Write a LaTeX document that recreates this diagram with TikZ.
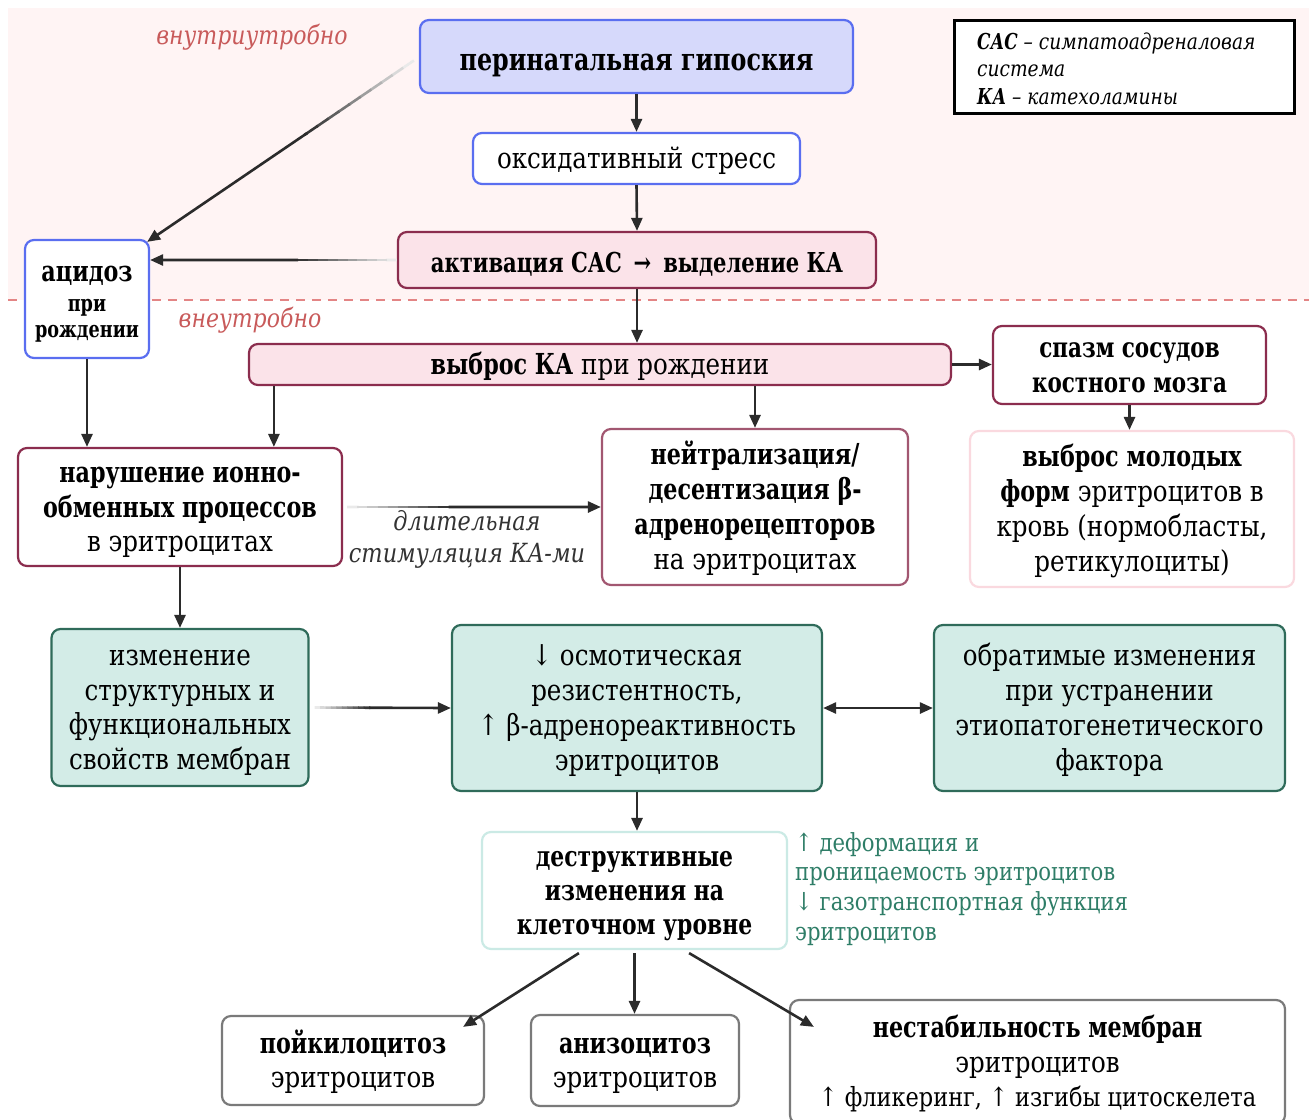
\documentclass[tikz,border=0pt]{standalone}
\usepackage{fontspec}
\usepackage{graphicx}
\setmainfont{DejaVu Serif}[FakeStretch=0.85, BoldFeatures={FakeStretch=0.77}, BoldItalicFeatures={FakeStretch=0.77}]
\usetikzlibrary{arrows.meta,calc}
\definecolor{bblue}{HTML}{5A6EF0}
\definecolor{hypfill}{HTML}{D6D9FB}
\definecolor{maroon}{HTML}{8B2D4E}
\definecolor{pinkfill}{HTML}{FBE3E9}
\definecolor{tealfill}{HTML}{D3ECE7}
\definecolor{tealbord}{HTML}{2F6B5A}
\definecolor{lteal}{HTML}{CBEAE5}
\definecolor{lpink}{HTML}{FAD9DF}
\definecolor{grayb}{HTML}{7A7A7A}
\definecolor{lblred}{HTML}{C85A5A}
\definecolor{dashc}{HTML}{E38585}
\definecolor{bgpink}{HTML}{FFF4F4}
\definecolor{tealtxt}{HTML}{2E7D67}
\definecolor{arrc}{HTML}{2B2B2B}
\newcommand{\fsz}[2]{\fontsize{#1}{#2}\selectfont}
\newcommand{\tst}{\rule{0pt}{30bp}}
\newcommand{\bst}{\rule[-10bp]{0pt}{10bp}}
\newcommand{\gradarr}[2]{%
  \foreach \a/\b/\c in {0/0.045/10,0.04/0.085/18,0.08/0.125/27,0.12/0.165/36,0.16/0.205/46,0.2/0.245/56,0.24/0.285/66,0.28/0.325/76,0.32/0.365/86,0.36/0.41/95}{%
    \draw[arrc!\c, line width=2.6bp] ($(#1)!\a!(#2)$) -- ($(#1)!\b!(#2)$);}
  \draw[arr] ($(#1)!0.4!(#2)$) -- (#2);}
\begin{document}
\begin{tikzpicture}[x=1bp,y=-1bp,
  box/.style={rounded corners=9bp, line width=2.2bp, inner sep=0pt, align=center, font=\fsz{29}{35}},
  sz/.style 2 args={minimum width=#1bp, minimum height=#2bp},
  bluebox/.style={box, draw=bblue, fill=white},
  marbox/.style={box, draw=maroon, fill=white},
  pinkbox/.style={box, draw=maroon, fill=pinkfill},
  tealbox/.style={box, draw=tealbord, fill=tealfill},
  graybox/.style={box, draw=grayb, fill=white},
  arr/.style={draw=arrc, line width=2.6bp, -{Triangle[length=13bp,width=11bp]}},
  lbl/.style={font=\fsz{26}{30}\itshape, text=lblred, inner sep=0pt}
]
\useasboundingbox (0,0) rectangle (1309,1119);
\fill[bgpink] (8,8) rectangle (1309,300);
\draw[dashc, line width=2.5bp, dash pattern=on 9bp off 7bp] (8,300) -- (1309,300);

\node[lbl] (lin) at (252,37) {внутриутробно};
\node[lbl] (lout) at (250,320) {внеутробно};

% legend
\node[draw=black, line width=3bp, fill=white, sz={340}{93}, inner sep=0pt] (leg) at (1124,66.5) {};
\node[anchor=west, align=left, inner sep=0pt, font=\fsz{22}{27.5}\itshape] (legt) at (977,68.5)
  {{\bfseries САС} – симпатоадреналовая\\система\\{\bfseries КА} – катехоламины};

% nodes
\node[box, draw=bblue, fill=hypfill, sz={433}{73}, font=\fsz{31}{35}\bfseries] (hyp) at (636.5,56.5) {\rule{0pt}{37bp}перинатальная гипоския\bst};
\node[bluebox, sz={327}{51}] (ox) at (636.5,158.5) {\tst оксидативный стресс\bst};
\node[pinkbox, sz={478}{56}, font=\fsz{27.5}{35}\bfseries] (sac) at (637,260) {\rule{0pt}{35bp}активация САС \,→\, выделение КА\bst};
\node[bluebox, sz={124}{118}, font=\fsz{23}{27}\bfseries] (acid) at (87,299) {{\fsz{29}{32}\rule{0pt}{31bp}ацидоз}\\[3bp]при\\рождении\bst};
\node[pinkbox, sz={702}{41}] (vyb) at (600,364.5) {\tst\textbf{выброс КА} при рождении\bst};
\node[marbox, sz={273}{78}, font=\fsz{28}{35}\bfseries] (spasm) at (1129.5,365) {\tst спазм сосудов\\костного мозга\bst};
\node[marbox, sz={324}{118}] (nar) at (180,507) {\tst\textbf{нарушение ионно-}\\\textbf{обменных процессов}\\в эритроцитах\bst};
\node[box, draw=maroon!80, fill=white, sz={306}{156}] (neu) at (755,507) {\tst\textbf{нейтрализация/}\\\textbf{десентизация β-}\\\textbf{адренорецепторов}\\на эритроцитах\bst};
\node[box, draw=lpink, fill=white, sz={324}{156}] (young) at (1132,509) {\tst\textbf{выброс молодых}\\\textbf{форм} эритроцитов в\\кровь (нормобласты,\\ретикулоциты)\bst};
\node[tealbox, sz={257}{157}] (izm) at (180,707.5) {\tst изменение\\структурных и\\функциональных\\свойств мембран\bst};
\node[tealbox, sz={370}{166}] (osm) at (637,708) {\tst↓ осмотическая\\резистентность,\\↑ β-адренореактивность\\эритроцитов\bst};
\node[tealbox, sz={351}{166}] (obr) at (1109.5,708) {\tst обратимые изменения\\при устранении\\этиопатогенетического\\фактора\bst};
\node[box, draw=lteal, fill=white, sz={305}{117}, font=\fsz{28.5}{34.5}\bfseries] (des) at (634.5,890.5) {\tst деструктивные\\изменения на\\клеточном уровне\bst};
\node[anchor=west, align=left, inner sep=0pt, text=tealtxt, font=\fsz{25}{30}] (side) at (795,889) {↑ деформация и\\проницаемость эритроцитов\\↓ газотранспортная функция\\эритроцитов};
\node[graybox, sz={262}{89}] (poik) at (353,1060.5) {\tst\textbf{пойкилоцитоз}\\эритроцитов\bst};
\node[graybox, sz={208}{91}] (aniz) at (635,1060.5) {\tst\textbf{анизоцитоз}\\эритроцитов\bst};
\node[graybox, sz={495}{124}] (nest) at (1037.5,1062) {\tst\textbf{нестабильность мембран}\\эритроцитов\\{\fsz{26.5}{35}↑ фликеринг, ↑ изгибы цитоскелета}\bst};

\node[inner sep=0pt, align=center, text=black!80, font=\fsz{26.5}{32}\itshape] (dlit) at (467,539) {длительная\\стимуляция КА-ми};

% helper coordinates
\coordinate (hypL) at ([xshift=-5bp,yshift=-4bp]hyp.west);
\coordinate (acidNE) at ([xshift=-3bp,yshift=-3bp]acid.north east);
\coordinate (acidE) at (sac.west -| acid.east);
\coordinate (narE) at ([xshift=4bp]nar.east);
\coordinate (izmE) at ([xshift=5bp]izm.east);

% arrows
\draw[arr] (hyp.south) -- (ox.north);
\draw[arr] (ox.south) -- (sac.north);
\draw[arr] (sac.south) -- (sac.south |- vyb.north);
\gradarr{hypL}{acidNE}
\gradarr{sac.west}{acidE}
\draw[arr] (vyb.east) -- (vyb.east -| spasm.west);
\draw[arr] (spasm.south) -- (spasm.south |- young.north);
\draw[arr] (vyb.south -| neu.north) -- (neu.north);
\draw[arr] ([xshift=26bp]vyb.south west) -- ([xshift=26bp]vyb.south west |- nar.north);
\draw[arr] (acid.south) -- (acid.south |- nar.north);
\gradarr{narE}{neu.west}
\draw[arr] (nar.south) -- (izm.north);
\gradarr{izmE}{osm.west}
\draw[draw=arrc, line width=2.6bp, {Triangle[length=13bp,width=11bp]}-{Triangle[length=13bp,width=11bp]}] (osm.east) -- (obr.west);
\draw[arr] (osm.south) -- (osm.south |- des.north);
\draw[arr] ([xshift=98bp,yshift=-3bp]des.south west) -- ([xshift=-22bp,yshift=-12bp]poik.north east);
\draw[arr] ([yshift=-3bp]des.south) -- (des.south |- aniz.north);
\draw[arr] ([xshift=-99bp,yshift=-3bp]des.south east) -- ([xshift=25bp,yshift=-28bp]nest.north west);
\end{tikzpicture}
\end{document}
